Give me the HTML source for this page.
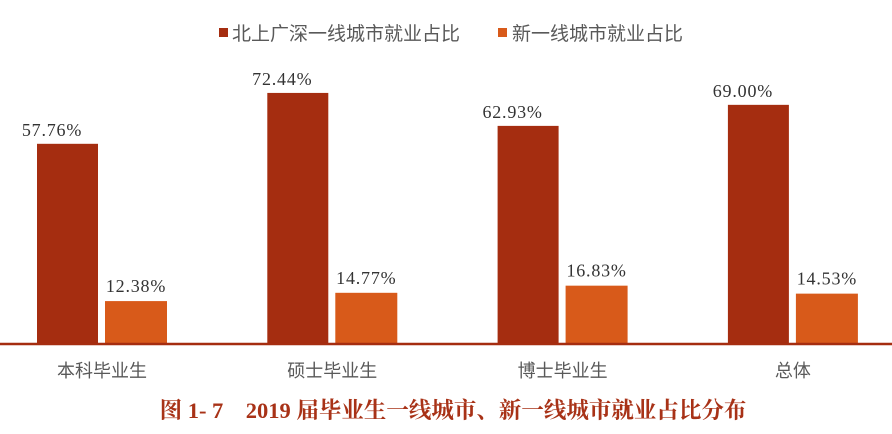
<!DOCTYPE html>
<html><head><meta charset="utf-8"><style>
body{margin:0;background:#fff;}
svg text{font-family:"Liberation Serif","Noto Serif CJK SC",serif;}
.cjk{font-family:"Liberation Sans","Noto Sans CJK SC",sans-serif !important;}
</style></head><body>
<svg id="chart" width="892" height="429" xmlns="http://www.w3.org/2000/svg">
<g>
<rect x="219" y="28" width="9" height="9" fill="#A52D10"/>
<text class="cjk" x="232" y="40" font-size="19" fill="#595959">北上广深一线城市就业占比</text>
<rect x="498" y="28" width="9" height="9" fill="#D85A1A"/>
<text class="cjk" x="512" y="40" font-size="19" fill="#595959">新一线城市就业占比</text>
</g>
<g id="bars"></g>
<line x1="0" y1="344" x2="892" y2="344" stroke="#A52D10" stroke-width="2.5"/>
<text x="453" y="418" font-size="22.5" font-weight="bold" fill="#A83217" text-anchor="middle" style="font-family:'Liberation Serif','Noto Serif CJK SC',serif">图 1- 7　2019 届毕业生一线城市、新一线城市就业占比分布</text>
</svg>
<script>
const categories=["本科毕业生","硕士毕业生","博士毕业生","总体"];
const tier1=[57.76,72.44,62.93,69.00];
const newTier1=[12.38,14.77,16.83,14.53];
const base=344, scale=3.466;
const y=v=>base-v*scale;
const gx=i=>37+i*230.3;
const ns="http://www.w3.org/2000/svg";
const g=document.getElementById('bars');
function mk(t,a){const e=document.createElementNS(ns,t);for(const k in a)e.setAttribute(k,a[k]);g.appendChild(e);return e;}
categories.forEach((c,i)=>{
  const x=gx(i);
  const b1=mk('rect',{x:x,y:y(tier1[i]),width:61,height:base-y(tier1[i]),fill:'#A52D10'});
  
  
  const b2=mk('rect',{x:x+68,y:y(newTier1[i]),width:62,height:base-y(newTier1[i]),fill:'#D85A1A'});
  
  
  const t1=mk('text',{x:x+15,y:y(tier1[i])-8,'font-size':18,'letter-spacing':0.8,fill:'#333','text-anchor':'middle'});
  t1.textContent=tier1[i].toFixed(2)+'%';
  
  
  const t2=mk('text',{x:x+99,y:y(newTier1[i])-9,'font-size':18,'letter-spacing':0.8,fill:'#333','text-anchor':'middle'});
  t2.textContent=newTier1[i].toFixed(2)+'%';
  
  
  const cl=mk('text',{x:x+65,y:377,'font-size':18,fill:'#595959','text-anchor':'middle',class:'cjk'});
  cl.textContent=c;
  
  
});
</script>
</body></html>
